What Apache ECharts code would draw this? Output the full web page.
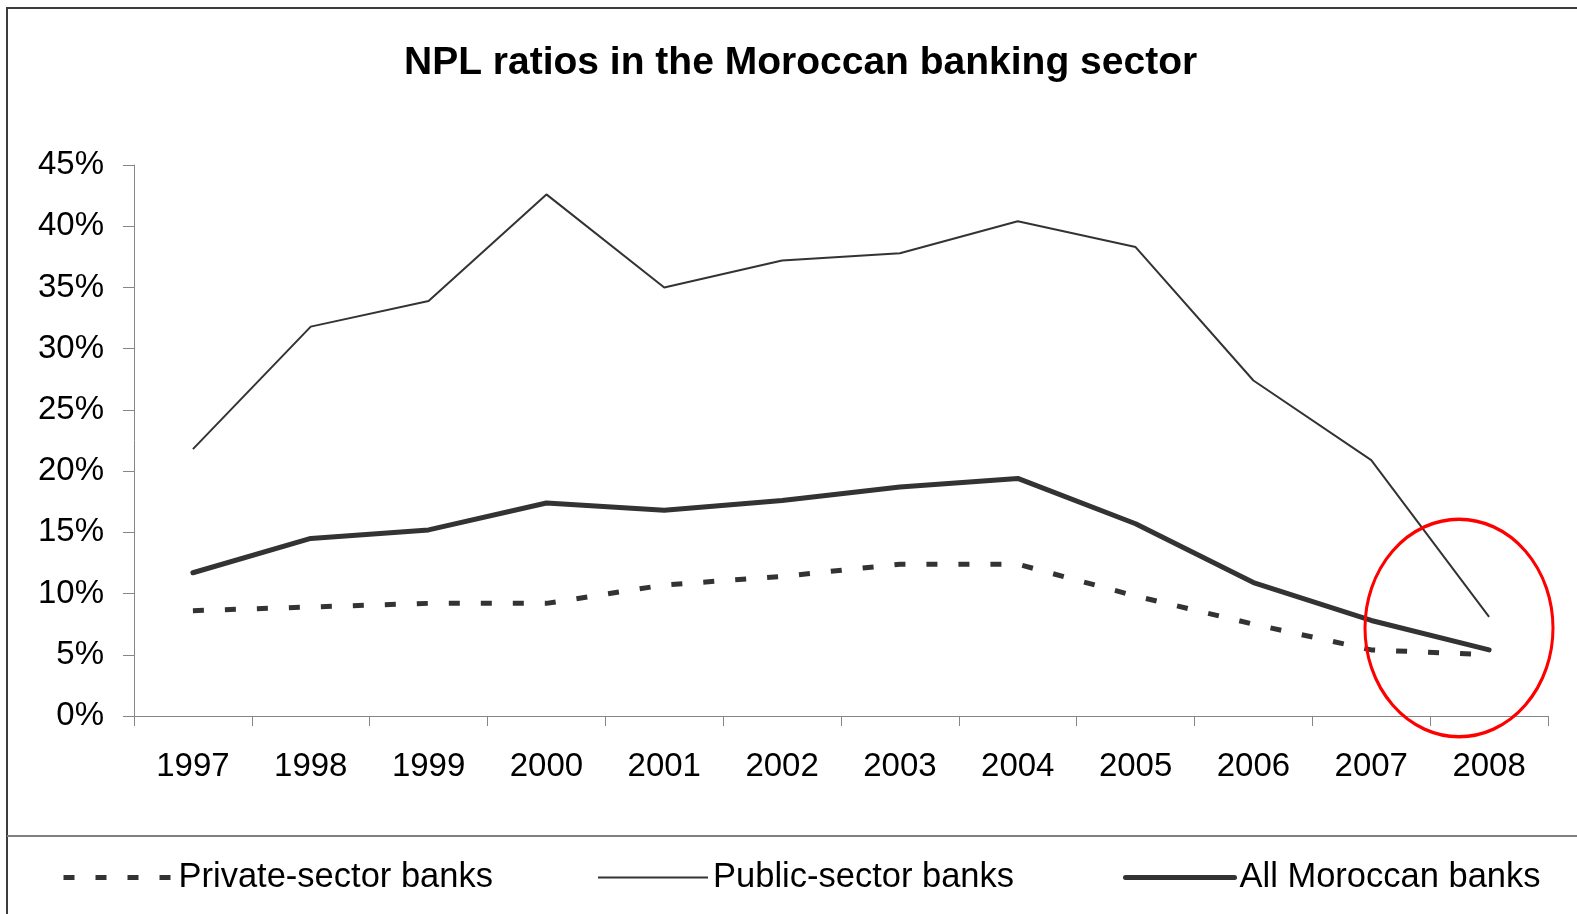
<!DOCTYPE html>
<html>
<head>
<meta charset="utf-8">
<script src="https://cdn.jsdelivr.net/npm/echarts@6/dist/echarts.min.js"></script>
<style>
  html, body { margin: 0; padding: 0; background: #fff; }
  #chart { width: 1577px; height: 914px; }
</style>
</head>
<body>
<div id="chart"></div>
<script>
// Years on the category axis
const years = ['1997', '1998', '1999', '2000', '2001', '2002', '2003', '2004', '2005', '2006', '2007', '2008'];

// Non-performing loan ratios, in percent
const privateBanks = [8.6, 8.9, 9.2, 9.2, 10.7, 11.4, 12.4, 12.4, 9.8, 7.5, 5.4, 5.0];
const publicBanks  = [21.8, 31.8, 33.9, 42.6, 35.0, 37.2, 37.8, 40.4, 38.3, 27.4, 20.9, 8.1];
const allBanks     = [11.7, 14.5, 15.2, 17.4, 16.8, 17.6, 18.7, 19.4, 15.7, 10.9, 7.8, 5.4];

// Value axis range and step, in percent
const yMin = 0;
const yMax = 45;
const yStep = 5;

const seriesNames = ['Private-sector banks', 'Public-sector banks', 'All Moroccan banks'];

const FONT = '"Liberation Sans", Arial, Helvetica, sans-serif';
const INK = '#333333';

// line styles shared by each series and its legend key
const privateStyle = { color: INK, width: 5, type: [11, 21], cap: 'butt' };
const publicStyle  = { color: INK, width: 2 };
const allStyle     = { color: INK, width: 5, cap: 'round', join: 'round' };

const chart = echarts.init(document.getElementById('chart'), null, { renderer: 'canvas' });

const legendBase = {
  top: 860,
  padding: 0,
  itemHeight: 20,
  selectedMode: false,
  itemStyle: { opacity: 0, borderWidth: 0 },
  textStyle: { fontFamily: FONT, fontSize: 34.5, color: '#000' }
};

chart.setOption({
  backgroundColor: '#ffffff',
  animation: false,
  title: {
    text: 'NPL ratios in the Moroccan banking sector',
    left: 404,
    top: 44,
    padding: 0,
    textStyle: { fontFamily: FONT, fontSize: 39, fontWeight: 'bold', color: '#000' }
  },
  grid: { left: 134, right: 29, top: 165, bottom: 198, containLabel: false },
  xAxis: {
    type: 'category',
    data: years,
    boundaryGap: true,
    axisLine: { show: true, lineStyle: { color: '#868686', width: 1 } },
    axisTick: { show: true, interval: 0, length: 10, lineStyle: { color: '#868686', width: 1 } },
    axisLabel: { interval: 0, margin: 34, fontFamily: FONT, fontSize: 33, color: '#000' },
    splitLine: { show: false }
  },
  yAxis: {
    type: 'value',
    min: yMin,
    max: yMax,
    interval: yStep,
    axisLine: { show: true, lineStyle: { color: '#868686', width: 1 } },
    axisTick: { show: true, length: 11, lineStyle: { color: '#868686', width: 1 } },
    axisLabel: { margin: 30, fontFamily: FONT, fontSize: 33, color: '#000', formatter: '{value}%' },
    splitLine: { show: false }
  },
  legend: [
    Object.assign({}, legendBase, { data: [seriesNames[0]], left: 61, itemWidth: 110, lineStyle: privateStyle }),
    Object.assign({}, legendBase, { data: [seriesNames[1]], left: 597, itemWidth: 110, lineStyle: publicStyle }),
    Object.assign({}, legendBase, { data: [seriesNames[2]], left: 1123, itemWidth: 109, lineStyle: allStyle })
  ],
  series: [
    {
      name: seriesNames[0],
      type: 'line',
      data: privateBanks,
      symbol: 'none',
      showSymbol: false,
      lineStyle: privateStyle,
      itemStyle: { color: INK },
      z: 3
    },
    {
      name: seriesNames[1],
      type: 'line',
      data: publicBanks,
      symbol: 'none',
      showSymbol: false,
      lineStyle: publicStyle,
      itemStyle: { color: INK },
      z: 2
    },
    {
      name: seriesNames[2],
      type: 'line',
      data: allBanks,
      symbol: 'none',
      showSymbol: false,
      lineStyle: allStyle,
      itemStyle: { color: INK },
      z: 4
    }
  ],
  graphic: [
    // outer frame of the chart area
    {
      type: 'rect',
      z: 0,
      silent: true,
      shape: { x: 7, y: 8, width: 1700, height: 1100 },
      style: { fill: 'none', stroke: '#3c3c3c', lineWidth: 2 }
    },
    // rule above the legend strip
    {
      type: 'line',
      z: 0,
      silent: true,
      shape: { x1: 7, y1: 836, x2: 1577, y2: 836 },
      style: { stroke: '#808080', lineWidth: 2 }
    },
    // red highlight ring around the last year
    {
      type: 'circle',
      z: 100,
      silent: true,
      x: 1459,
      y: 628,
      scaleX: 94 / 108.7,
      scaleY: 1,
      shape: { cx: 0, cy: 0, r: 108.7 },
      style: { fill: 'none', stroke: '#ff0000', lineWidth: 3.5, strokeNoScale: true }
    }
  ]
});
</script>
</body>
</html>
